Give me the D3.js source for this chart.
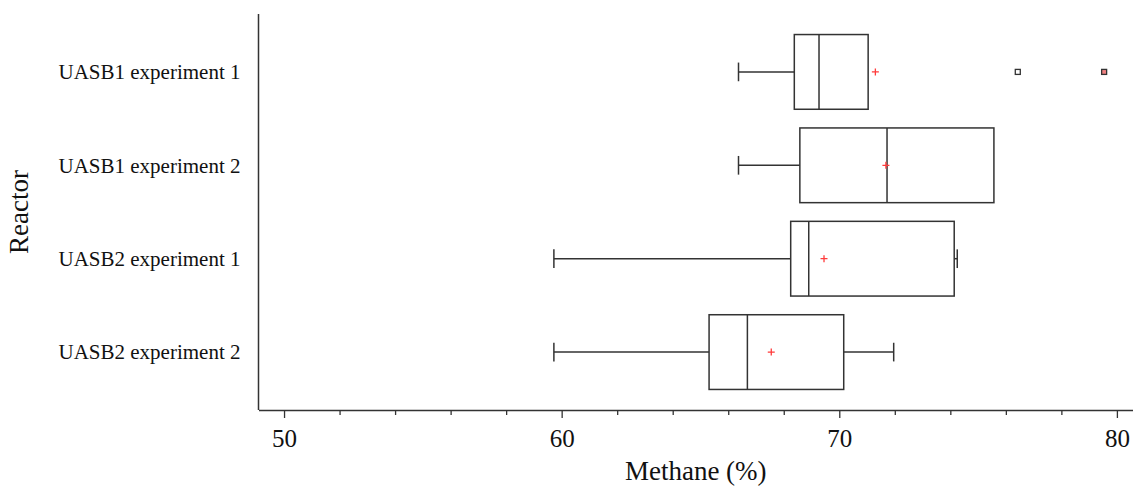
<!DOCTYPE html>
<html>
<head>
<meta charset="utf-8">
<script src="https://cdn.jsdelivr.net/npm/d3@7"></script>
<style>
  body { margin: 0; background: #fff; }
  svg, svg text { font-family: "Liberation Serif", "DejaVu Serif", serif !important; }
</style>
</head>
<body>
<div id="plot"></div>
<script>
// box plot data (methane %)
const reactors = ["UASB1 experiment 1", "UASB1 experiment 2", "UASB2 experiment 1", "UASB2 experiment 2"];
const whisker_low = [66.37, 66.37, 59.72, 59.72];
const q1 = [68.38, 68.58, 68.25, 65.31];
const median = [69.27, 71.72, 68.90, 66.69];
const q3 = [71.04, 75.57, 74.14, 70.16];
const whisker_high = [71.04, 75.57, 74.25, 71.96];
const means = [71.30, 71.68, 69.45, 67.55];
const outliers = [[76.43], [], [], []];
const extreme_outliers = [[79.54], [], [], []];
const major_ticks = [50, 60, 70, 80];
const minor_ticks = [52, 54, 56, 58, 62, 64, 66, 68, 72, 74, 76, 78];

const total_width = 1133
const total_height = 487
const plot_left = 258.5, plot_right = 1133, plot_top = 14, plot_bottom = 410
const ink = "#333"

var svg = d3.select("#plot")
  .append("svg")
  .attr("width", total_width)
  .attr("height", total_height)
  .style("display", "block");

var x = d3.scaleLinear().domain([49.08, 80.58]).range([plot_left, plot_right]);
var y = d3.scalePoint().domain(reactors).range([plot_top, plot_bottom]).padding(0.62);
var step = y.step();
var half = step * 0.4;
var cap = step * 0.1;

// axes
var xAxis = d3.axisBottom(x).tickValues(major_ticks).tickSize(8).tickSizeOuter(0).tickFormat(d3.format("d"));
var gx = svg.append("g").attr("transform", "translate(0," + plot_bottom + ")").call(xAxis).attr("font-family", null);
gx.select(".domain").attr("stroke", ink).attr("stroke-width", 1.5);
gx.selectAll(".tick line").attr("stroke", ink).attr("stroke-width", 1.3);
gx.selectAll(".tick text").attr("fill", "#111").style("font-size", "25px").attr("dy", "1.05em");

var xMinor = d3.axisBottom(x).tickValues(minor_ticks).tickSize(5).tickFormat("");
var gm = svg.append("g").attr("transform", "translate(0," + plot_bottom + ")").call(xMinor);
gm.select(".domain").remove();
gm.selectAll(".tick line").attr("stroke", ink).attr("stroke-width", 1.3);

var yAxis = d3.axisLeft(y).tickSize(0).tickSizeOuter(0);
var gy = svg.append("g").attr("transform", "translate(" + plot_left + ",0)").call(yAxis).attr("font-family", null);
gy.select(".domain").attr("d", "M0," + plot_top + "V" + plot_bottom).attr("stroke", ink).attr("stroke-width", 1.5);
gy.selectAll(".tick text").attr("fill", "#111").attr("x", -18).style("font-size", "21px");

svg.append("text").attr("x", (plot_left + plot_right) / 2).attr("y", 480).attr("text-anchor", "middle")
  .style("font-size", "27px").attr("fill", "#111").text("Methane (%)");
svg.append("text").attr("transform", "translate(28," + (plot_top + plot_bottom) / 2 + ") rotate(-90)").attr("text-anchor", "middle")
  .style("font-size", "27px").attr("fill", "#111").text("Reactor");

// boxes
var rows = reactors.map(function(r, i) {
  return {name: r, lo: whisker_low[i], q1: q1[i], med: median[i], q3: q3[i], hi: whisker_high[i], mean: means[i], out: outliers[i], ext: extreme_outliers[i]};
});

var g = svg.append("g").attr("fill", "none").attr("stroke", ink).attr("stroke-width", 1.5)
  .selectAll("g").data(rows).enter().append("g")
  .attr("transform", function(d) { return "translate(0," + y(d.name) + ")"; });

g.append("line").attr("x1", function(d) { return x(d.lo); }).attr("x2", function(d) { return x(d.q1); });
g.append("line").attr("x1", function(d) { return x(d.q3); }).attr("x2", function(d) { return x(d.hi); });
g.filter(function(d) { return d.lo < d.q1; }).append("line")
  .attr("x1", function(d) { return x(d.lo); }).attr("x2", function(d) { return x(d.lo); }).attr("y1", -cap).attr("y2", cap);
g.filter(function(d) { return d.hi > d.q3; }).append("line")
  .attr("x1", function(d) { return x(d.hi); }).attr("x2", function(d) { return x(d.hi); }).attr("y1", -cap).attr("y2", cap);
g.append("rect")
  .attr("x", function(d) { return x(d.q1); })
  .attr("width", function(d) { return x(d.q3) - x(d.q1); })
  .attr("y", -half).attr("height", 2 * half);
g.append("line").attr("x1", function(d) { return x(d.med); }).attr("x2", function(d) { return x(d.med); }).attr("y1", -half).attr("y2", half);

// mean markers
g.append("path")
  .attr("d", function(d) { var cx = x(d.mean); return "M" + (cx - 3.5) + ",0H" + (cx + 3.5) + "M" + cx + ",-3.5V3.5"; })
  .attr("stroke", "#ff3b3b").attr("stroke-width", 1.3);

// outliers
g.selectAll(".out").data(function(d) { return d.out; }).enter().append("rect").attr("class", "out")
  .attr("x", function(v) { return x(v) - 2.5; }).attr("y", -2.5).attr("width", 5).attr("height", 5)
  .attr("fill", "#fff").attr("stroke-width", 1.3);
g.selectAll(".ext").data(function(d) { return d.ext; }).enter().append("rect").attr("class", "ext")
  .attr("x", function(v) { return x(v) - 2.5; }).attr("y", -2.5).attr("width", 5).attr("height", 5)
  .attr("fill", "#f08080").attr("stroke-width", 1.3);
</script>
</body>
</html>
